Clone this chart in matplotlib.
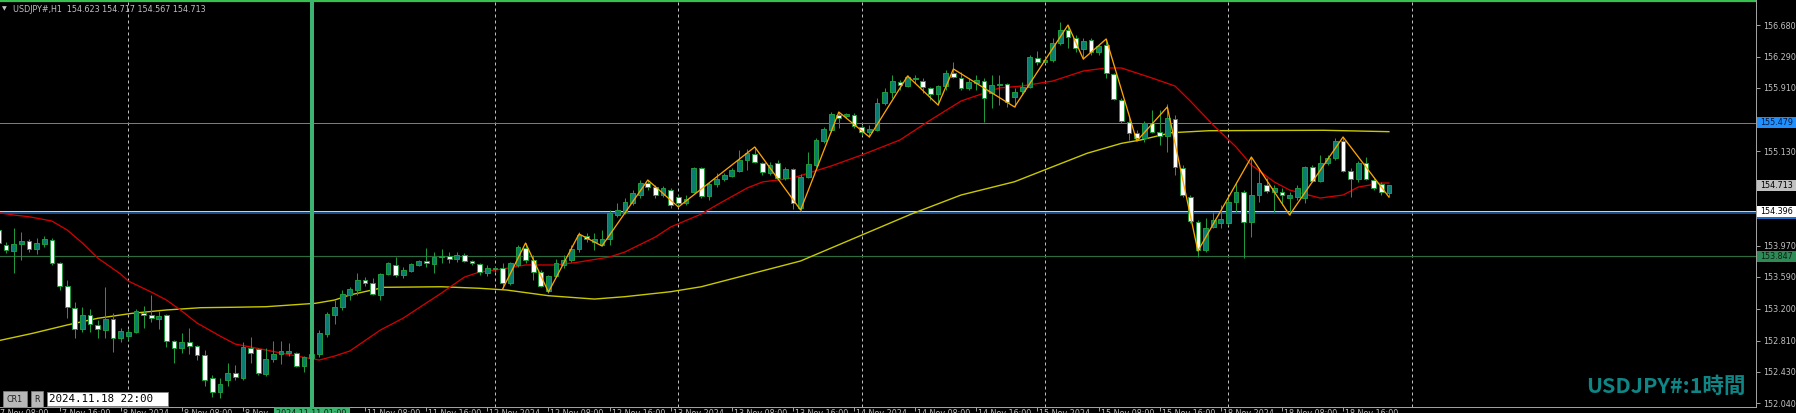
import matplotlib
matplotlib.use("Agg")
import matplotlib.pyplot as plt
from matplotlib.patches import Rectangle

W, H, DPI = 1796, 413, 100

title_text = "USDJPY#,H1  154.623 154.717 154.567 154.713"
watermark = "USDJPY#:1時間"
cursor_time = "2024.11.18 22:00"
vline_time = "2024.11.11 01:00"

opens = [154.166,153.982,153.908,153.994,154.031,153.933,153.994,154.043,153.761,153.479,
         153.209,152.951,153.123,153.001,152.939,153.074,152.841,152.866,152.915,153.148,
         153.123,153.074,153.123,152.804,152.718,152.792,152.743,152.633,152.350,152.179,
         152.326,152.412,152.350,152.718,152.706,152.400,152.583,152.645,152.657,152.657,
         152.498,152.596,152.645,152.890,153.123,153.221,153.369,153.430,153.552,153.516,
         153.369,153.626,153.737,153.614,153.663,153.737,153.786,153.749,153.835,153.847,
         153.810,153.859,153.786,153.749,153.638,153.687,153.700,153.516,153.737,153.945,
         153.798,153.651,153.418,153.602,153.737,153.798,153.933,154.092,154.019,153.982,
         154.056,154.350,154.387,154.497,154.595,154.742,154.693,154.595,154.656,154.571,
         154.497,154.632,154.926,154.583,154.730,154.791,154.828,154.890,155.024,155.098,
         154.988,154.865,154.988,154.804,154.914,154.436,154.816,154.963,155.258,155.392,
         155.576,155.564,155.576,155.429,155.368,155.392,155.724,155.859,155.981,155.932,
         156.030,155.993,155.908,155.834,155.932,156.092,156.030,155.908,155.969,155.993,
         155.846,155.944,155.957,155.797,155.871,155.920,156.276,156.226,156.251,156.460,
         156.619,156.521,156.386,156.496,156.349,156.435,156.079,155.760,155.490,155.356,
         155.294,155.478,155.368,155.319,155.527,154.926,154.571,154.264,153.920,154.203,
         154.252,154.252,154.509,154.632,154.264,154.595,154.718,154.632,154.632,154.558,
         154.571,154.558,154.939,154.767,154.988,155.049,155.258,154.890,154.791,154.988,
         154.779,154.730,154.623]
highs = [154.227,154.019,154.190,154.141,154.056,154.068,154.092,154.068,153.773,153.552,
         153.283,153.221,153.197,153.062,153.467,153.148,152.964,152.951,153.197,153.234,
         153.369,153.172,153.135,152.817,152.902,152.964,152.755,152.694,152.387,152.350,
         152.534,152.510,152.792,152.853,152.718,152.718,152.804,152.804,152.780,152.669,
         152.620,152.694,152.939,153.160,153.307,153.430,153.467,153.638,153.589,153.577,
         153.638,153.773,153.835,153.712,153.761,153.798,153.945,153.896,153.933,153.896,
         153.896,153.884,153.798,153.761,153.737,153.724,153.761,153.773,153.982,154.006,
         153.859,153.675,153.614,153.810,153.859,153.982,154.141,154.129,154.129,154.166,
         154.411,154.497,154.558,154.656,154.779,154.779,154.718,154.706,154.681,154.595,
         154.595,154.939,154.939,154.755,154.865,154.865,154.926,155.147,155.159,155.184,
         155.000,155.000,155.024,154.939,154.926,154.853,155.123,155.294,155.429,155.613,
         155.613,155.601,155.601,155.454,155.454,155.785,155.908,156.067,156.006,156.067,
         156.067,156.030,155.920,155.944,156.128,156.226,156.104,156.030,156.067,156.030,
         156.067,156.067,155.969,155.908,155.981,156.312,156.361,156.288,156.521,156.717,
         156.680,156.558,156.521,156.521,156.447,156.509,156.092,155.785,155.576,155.392,
         155.503,155.638,155.638,155.711,155.576,154.963,154.595,154.288,154.313,154.387,
         154.473,154.571,154.755,154.656,155.061,154.926,154.804,154.718,154.681,154.632,
         154.718,154.951,154.963,155.086,155.086,155.294,155.307,154.926,155.012,155.061,
         154.804,154.755,154.717]
lows = [153.970,153.884,153.638,153.798,153.896,153.871,153.957,153.737,153.430,153.086,
        152.841,152.915,152.915,152.841,152.841,152.669,152.792,152.817,152.902,152.964,
        153.037,152.951,152.731,152.534,152.657,152.645,152.571,152.252,152.117,152.105,
        152.252,152.326,152.326,152.534,152.387,152.375,152.547,152.522,152.620,152.485,
        152.424,152.547,152.608,152.853,153.013,153.185,153.307,153.369,153.479,153.369,
        153.307,153.614,153.589,153.577,153.651,153.724,153.712,153.638,153.761,153.761,
        153.773,153.773,153.737,153.614,153.602,153.651,153.454,153.491,153.712,153.761,
        153.552,153.467,153.393,153.589,153.700,153.773,153.896,154.019,153.920,153.970,
        153.982,154.325,154.362,154.473,154.558,154.656,154.558,154.571,154.436,154.448,
        154.472,154.620,154.558,154.534,154.693,154.767,154.816,154.877,154.902,154.988,
        154.841,154.841,154.804,154.779,154.423,154.399,154.804,154.939,155.233,155.368,
        155.417,155.540,155.417,155.331,155.307,155.380,155.699,155.785,155.883,155.920,
        155.969,155.846,155.760,155.699,155.883,156.030,155.883,155.883,155.883,155.490,
        155.662,155.699,155.675,155.675,155.822,155.908,156.190,156.214,156.226,156.435,
        156.398,156.349,156.263,156.312,156.312,156.030,155.760,155.478,155.270,155.258,
        155.245,155.356,155.208,155.123,154.841,154.571,154.252,153.835,153.896,154.190,
        154.190,154.227,154.387,153.822,154.080,154.509,154.620,154.387,154.472,154.350,
        154.534,154.497,154.755,154.755,154.963,155.024,154.877,154.571,154.755,154.779,
        154.656,154.595,154.567]
closes = [154.006,153.920,153.994,154.031,153.933,154.006,154.056,153.761,153.479,153.221,
          152.951,153.123,153.013,152.951,153.074,152.841,152.927,152.915,153.172,153.123,
          153.086,153.111,152.804,152.718,152.792,152.743,152.633,152.326,152.179,152.277,
          152.412,152.363,152.731,152.657,152.412,152.583,152.645,152.682,152.682,152.498,
          152.608,152.645,152.902,153.136,153.221,153.381,153.442,153.552,153.516,153.381,
          153.626,153.761,153.614,153.675,153.749,153.786,153.761,153.835,153.847,153.810,
          153.859,153.786,153.761,153.651,153.700,153.700,153.516,153.761,153.957,153.798,
          153.651,153.479,153.602,153.761,153.798,153.933,154.105,154.056,154.056,154.056,
          154.374,154.411,154.509,154.620,154.742,154.693,154.595,154.681,154.472,154.497,
          154.546,154.926,154.583,154.730,154.791,154.841,154.902,155.024,155.110,155.000,
          154.877,154.963,154.804,154.914,154.497,154.816,154.975,155.270,155.405,155.589,
          155.540,155.589,155.441,155.368,155.405,155.724,155.859,155.993,155.944,156.042,
          156.018,155.920,155.834,155.932,156.092,156.042,155.908,155.981,156.006,155.785,
          155.944,155.957,155.736,155.859,155.920,156.288,156.226,156.251,156.460,156.619,
          156.533,156.398,156.484,156.349,156.423,156.092,155.773,155.503,155.356,155.294,
          155.478,155.368,155.319,155.540,154.939,154.595,154.276,153.920,154.190,154.288,
          154.301,154.509,154.632,154.264,154.595,154.742,154.644,154.681,154.595,154.595,
          154.681,154.939,154.767,154.988,155.049,155.258,154.890,154.791,154.988,154.791,
          154.681,154.632,154.713]

red_ma_bars = [0,2,4,7,9,11,13,16,17,20,22,24,26,29,31,33,35,37,39,42,44,46,50,53,58,61,63,66,
               69,73,76,80,82,86,88,92,94,98,100,104,109,113,118,122,126,131,134,138,142,145,
               147,151,154,156,159,162,164,167,169,173,176,178,181,182]
red_ma_vals = [154.378,154.350,154.329,154.276,154.166,154.006,153.822,153.626,153.540,153.405,
               153.307,153.172,153.025,152.866,152.767,152.731,152.694,152.657,152.620,152.571,
               152.620,152.682,152.939,153.086,153.393,153.589,153.651,153.687,153.737,153.737,
               153.773,153.835,153.896,154.080,154.203,154.362,154.472,154.681,154.755,154.804,
               154.951,155.086,155.270,155.515,155.748,155.908,155.932,155.993,156.116,156.153,
               156.153,156.030,155.932,155.748,155.454,155.184,154.963,154.755,154.656,154.558,
               154.595,154.693,154.742,154.742]

yel_ma_bars = [0,4.5,9,13,17.5,22,26.5,30.5,35,39.5,41.5,44,46,50.5,58,63,66.5,72,78,82,88,92,
               105,112,119.5,126,133,138,142.5,147,149.5,153.5,158.5,173.5,182]
yel_ma_vals = [152.808,152.899,153.001,153.083,153.144,153.185,153.213,153.218,153.225,153.254,
               153.267,153.307,153.369,153.463,153.470,153.451,153.430,153.360,153.319,153.348,
               153.409,153.470,153.786,154.064,154.362,154.595,154.758,154.942,155.107,155.229,
               155.270,155.359,155.384,155.389,155.372]

zz_bars = [66,69,72,76,79,85,89,99,105,110,114,119,123,125,133,140,142,145,149,153,157,164,169,176,182]
zz_vals = [153.442,154.006,153.405,154.117,153.970,154.779,154.448,155.184,154.411,155.613,
           155.307,156.055,155.699,156.141,155.675,156.680,156.263,156.509,155.258,155.675,
           153.908,155.061,154.350,155.307,154.571]

level_top = 156.969
level_blue = 155.479
level_white = 154.396
level_blue2 = 154.374
level_green = 153.847
last_price = 154.713

price_ticks = [156.680,156.290,155.910,155.520,155.130,154.740,154.350,153.970,
               153.590,153.200,152.810,152.430,152.040]
hidden_ticks = [155.520, 154.740, 154.350]   # covered by the level labels
grid_bars = [17,41,65,89,113,137,161,185]
vline_bar = 41

# time-scale labels (the one under the marker-line box is hidden, as in the source)
time_label_bars = [0,8,16,24,32,48,56,64,72,80,88,96,104,112,120,128,136,144,152,160,168,176]
time_labels = ["7 Nov 08:00","7 Nov 16:00","8 Nov 2024","8 Nov 08:00","8 Nov 16:00",
               "11 Nov 08:00","11 Nov 16:00","12 Nov 2024","12 Nov 08:00",
               "12 Nov 16:00","13 Nov 2024","13 Nov 08:00","13 Nov 16:00","14 Nov 2024",
               "14 Nov 08:00","14 Nov 16:00","15 Nov 2024","15 Nov 08:00","15 Nov 16:00",
               "18 Nov 2024","18 Nov 08:00","18 Nov 16:00"]

# ---------------------------------------------------------------
BULL_FILL = "#0b7d70"
EDGE = "#1e9a3a"
BEAR_FILL = "#ffffff"
AXIS_TXT = "#c0c0c0"

fig = plt.figure(figsize=(W / DPI, H / DPI), dpi=DPI, facecolor="black")
plot_right = 1756 / W
plot_bottom = 6 / H
ax = fig.add_axes([0, plot_bottom, plot_right, 1 - plot_bottom])
ax.set_facecolor("black")
ax.set_xlim(0.21, 230.05)
ax.set_ylim(151.995, 156.987)
px = 0.72  # one pixel in points
plot_w_px = plot_right * W
plot_h_px = (1 - plot_bottom) * H
price_per_px = (156.987 - 151.995) / plot_h_px
bar_per_px = (230.05 - 0.21) / plot_w_px

# grid
for gb in grid_bars:
    ax.axvline(gb, color="#bdbdbd", lw=px, ls=(0, (3, 3)), zorder=1)

# horizontal levels
ax.axhline(level_top, color="#35c04f", lw=2.2 * px, zorder=5)
ax.axhline(level_blue, color="#1e90ff", lw=px, zorder=2)
ax.axhline(level_white, color="#d0d0d0", lw=px, zorder=2)
ax.axhline(level_blue2, color="#2266b0", lw=1.5 * px, zorder=2)
ax.axhline(level_green, color="#2e6b40", lw=1.2 * px, zorder=2)

# moving averages
ax.plot(yel_ma_bars, yel_ma_vals, color="#c8c800", lw=1.4 * px, zorder=3)
ax.plot(red_ma_bars, red_ma_vals, color="#d40000", lw=1.3 * px, zorder=3)

# candles
idx = list(range(len(opens)))
ax.vlines(idx, lows, highs, color=EDGE, lw=px, zorder=4)
bottoms, heights, fills = [], [], []
for o, c in zip(opens, closes):
    lo, hi = min(o, c), max(o, c)
    bottoms.append(lo)
    heights.append(max(hi - lo, 0.004))
    fills.append(BULL_FILL if c > o else BEAR_FILL)
ax.bar(idx, heights, bottom=bottoms, width=0.62, color=fills, edgecolor=EDGE,
       linewidth=px, zorder=5)

# zigzag
ax.plot(zz_bars, zz_vals, color="#ffa500", lw=1.3 * px, zorder=6)

# vertical marker line
ax.axvline(vline_bar, color="#3cb371", lw=4 * px, zorder=7)

for s in ["top", "left"]:
    ax.spines[s].set_visible(False)
for s in ["right", "bottom"]:
    ax.spines[s].set_color("#a0a0a0")
    ax.spines[s].set_linewidth(px)

ax.set_xticks([])
ax.yaxis.tick_right()
ax.set_yticks(price_ticks)
ax.set_yticklabels(["" if t in hidden_ticks else f"{t:.3f}" for t in price_ticks])
ax.tick_params(axis="y", colors="#a0a0a0", labelcolor=AXIS_TXT, length=3, width=px,
               pad=2, labelsize=5.8)

# time axis: tick marks and (cut-off) labels
xtr = ax.get_xaxis_transform()
ax.vlines(time_label_bars, -4 / plot_h_px, 0, transform=xtr, color="#a0a0a0", lw=px,
          clip_on=False)
box_left = vline_bar - 38 * bar_per_px
for b, lab in zip(time_label_bars, time_labels):
    fs = 5.8
    if b < vline_bar and b + 60 * bar_per_px > box_left:
        lab = lab.split(" ")[0] + " " + lab.split(" ")[1]   # only the part left of the box
    ax.text(b + 2 * bar_per_px, -2.5 / plot_h_px, lab, transform=xtr, fontsize=fs,
            color=AXIS_TXT, ha="left", va="top", clip_on=False)

# green time box under the marker line
ax.add_patch(Rectangle((box_left, -7 / plot_h_px), 76 * bar_per_px,
                       7 / plot_h_px, transform=xtr, fc="#3cb371", ec="none",
                       clip_on=False, zorder=20))
ax.text(vline_bar, -2.5 / plot_h_px, vline_time, transform=xtr, fontsize=5.8,
        color="#0a2010", ha="center", va="top", clip_on=False, zorder=21)

# price labels on the axis (fixed-size boxes, later ones on top)
ytr = ax.get_yaxis_transform()
level_labels = [(level_blue, "#1e90ff", "#0a1a40"),
                (last_price, "#c0c0c0", "#000000"),
                (level_blue2, "#1e6ec8", "#0a1a40"),
                (level_white, "#ffffff", "#000000"),
                (level_green, "#2e8b57", "#0a2010")]
for i, (val, fc, tc) in enumerate(level_labels):
    hh = 11 * price_per_px
    ax.add_patch(Rectangle((1.0 + 1 / plot_w_px, val - hh / 2), 40 / plot_w_px, hh,
                           transform=ytr, fc=fc, ec="none", clip_on=False,
                           zorder=20 + 2 * i))
    ax.text(1.0 + 4 / plot_w_px, val, f"{val:.3f}", transform=ytr, fontsize=5.8,
            color=tc, va="center", ha="left", zorder=21 + 2 * i, clip_on=False)

# title
fig.text(2 / W, 1 - 9 / H, "▼", fontsize=4.5, color=AXIS_TXT, va="center", ha="left")
fig.text(13 / W, 1 - 9 / H, title_text, fontsize=5.8, color=AXIS_TXT, va="center", ha="left")

# watermark
fig.text(1745 / W, 1 - 386 / H, watermark, fontsize=15.5, color="#0f8585",
         fontweight="bold", ha="right", va="center",
         family=["Noto Sans CJK JP", "DejaVu Sans"])

# bottom-left boxes
fig.text(15 / W, 1 - 399 / H, "CR1", fontsize=5.8, color="#202020", ha="center", va="center",
         bbox=dict(boxstyle="square,pad=0.45", fc="#b8b8b8", ec="#808080", lw=0.5))
fig.text(37 / W, 1 - 399 / H, "R", fontsize=5.8, color="#202020", ha="center", va="center",
         bbox=dict(boxstyle="square,pad=0.45", fc="#b8b8b8", ec="#808080", lw=0.5))
fig.text(49 / W, 1 - 399 / H, cursor_time + "  ", fontsize=7.8, color="#000000",
         ha="left", va="center", family="DejaVu Sans Mono",
         bbox=dict(boxstyle="square,pad=0.15", fc="#ffffff", ec="#808080", lw=0.5))

fig.savefig("out.png", dpi=DPI, facecolor="black")
